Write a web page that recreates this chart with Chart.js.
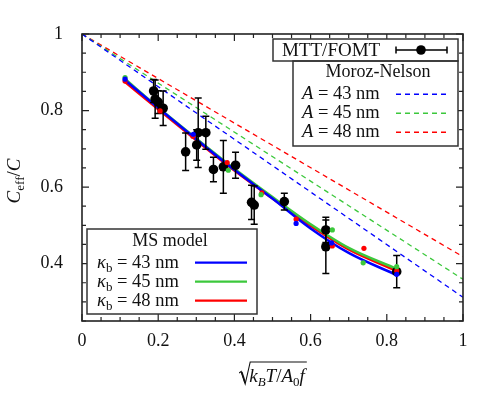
<!DOCTYPE html>
<html><head><meta charset="utf-8">
<script src="https://cdn.jsdelivr.net/npm/chart.js@4"></script>
<style>html,body{margin:0;padding:0;background:#fff}</style>
</head><body>
<canvas id="c" width="498" height="399"></canvas>
<script>
// ---- axes ----
const xTicks = [0, 0.2, 0.4, 0.6, 0.8, 1];
const xTickLabels = ['0', '0.2', '0.4', '0.6', '0.8', '1'];
const yTicks = [0.4, 0.6, 0.8, 1];
const yTickLabels = ['0.4', '0.6', '0.8', '1'];

// ---- Moroz-Nelson (dashed) ----
const mnX = [0, 1];
const mn43 = [1, 0.312];
const mn45 = [1, 0.359];
const mn48 = [1, 0.418];

// ---- MS model curves ----
const msX = [0.11, 0.2, 0.3, 0.4, 0.5, 0.6, 0.7, 0.826];
const ms43 = [0.882, 0.807, 0.725, 0.645, 0.570, 0.492, 0.428, 0.370];
const ms45 = [0.885, 0.808, 0.727, 0.648, 0.574, 0.503, 0.441, 0.386];
const ms48 = [0.877, 0.803, 0.722, 0.643, 0.570, 0.499, 0.437, 0.381];

// ---- MS model points ----
const dot43X = [0.113, 0.292, 0.562, 0.655, 0.826];
const dot43Y = [0.882, 0.738, 0.505, 0.454, 0.372];
const dot45X = [0.113, 0.384, 0.470, 0.657, 0.738, 0.826];
const dot45Y = [0.886, 0.644, 0.580, 0.488, 0.402, 0.392];
const dot48X = [0.113, 0.205, 0.291, 0.381, 0.472, 0.562, 0.657, 0.740, 0.826];
const dot48Y = [0.877, 0.799, 0.733, 0.664, 0.585, 0.516, 0.446, 0.440, 0.381];

// ---- MTT/FOMT measurements ----
const mttX = [0.188, 0.192, 0.200, 0.213, 0.272, 0.301, 0.305, 0.325, 0.345, 0.371, 0.403, 0.445, 0.452, 0.531, 0.640, 0.640, 0.826];
const mttY = [0.851, 0.830, 0.822, 0.806, 0.692, 0.710, 0.742, 0.742, 0.646, 0.653, 0.657, 0.560, 0.553, 0.562, 0.488, 0.444, 0.379];
const mttErr = [0.03, 0.05, 0.03, 0.045, 0.049, 0.04, 0.091, 0.043, 0.032, 0.069, 0.034, 0.045, 0.05, 0.022, 0.033, 0.07, 0.042];

const BLUE = '#0000ff', GREEN = '#3cc83c', RED = '#ff0000';
const FONT = "'Liberation Serif', 'DejaVu Serif', serif";

const pts = (xs, ys) => xs.map((x, i) => ({x: x, y: ys[i]}));

function rich(ctx, x, y, segs, align) {
  let w = 0;
  segs.forEach(s => { ctx.font = (s.it ? 'italic ' : '') + s.size + 'px ' + FONT; s.w = ctx.measureText(s.t).width; w += s.w; });
  let cx = align === 'center' ? x - w / 2 : x;
  ctx.textAlign = 'left'; ctx.textBaseline = 'alphabetic';
  segs.forEach(s => { ctx.font = (s.it ? 'italic ' : '') + s.size + 'px ' + FONT; ctx.fillText(s.t, cx, y + (s.dy || 0)); cx += s.w; });
  return w;
}

const MTT_INDEX = 6;
const deco = {
  id: 'deco',
  beforeDatasetDraw(chart, args) {
    if (args.index !== MTT_INDEX) return;
    const ctx = chart.ctx, xs = chart.scales.x, ys = chart.scales.y;
    ctx.save(); ctx.strokeStyle = '#000'; ctx.lineWidth = 1.5;
    mttX.forEach((x, i) => {
      const px = xs.getPixelForValue(x);
      const t = ys.getPixelForValue(mttY[i] + mttErr[i]);
      const b = ys.getPixelForValue(mttY[i] - mttErr[i]);
      ctx.beginPath();
      ctx.moveTo(px, t); ctx.lineTo(px, b);
      ctx.moveTo(px - 3.5, t); ctx.lineTo(px + 3.5, t);
      ctx.moveTo(px - 3.5, b); ctx.lineTo(px + 3.5, b);
      ctx.stroke();
    });
    ctx.restore();
  },
  afterDraw(chart) {
    const ctx = chart.ctx, a = chart.chartArea, xs = chart.scales.x, ys = chart.scales.y;
    ctx.save();
    // ticks inside (all four sides)
    ctx.strokeStyle = '#222'; ctx.lineWidth = 1.2;
    ctx.beginPath();
    for (let k = 0; k <= 20; k++) {
      const v = k * 0.05, px = xs.getPixelForValue(v), L = (k % 4 === 0) ? 7 : 4;
      ctx.moveTo(px, a.bottom); ctx.lineTo(px, a.bottom - L);
      ctx.moveTo(px, a.top); ctx.lineTo(px, a.top + L);
    }
    for (let k = 5; k <= 20; k++) {
      const v = k * 0.05, py = ys.getPixelForValue(v), L = (k % 4 === 0) ? 7 : 4;
      ctx.moveTo(a.left, py); ctx.lineTo(a.left + L, py);
      ctx.moveTo(a.right, py); ctx.lineTo(a.right - L, py);
    }
    ctx.stroke();
    ctx.lineWidth = 1.6; ctx.strokeStyle = '#222';
    ctx.strokeRect(a.left, a.top, a.right - a.left, a.bottom - a.top);

    // legend boxes
    ctx.fillStyle = '#fff';
    ctx.fillRect(273, 39, 185, 22); ctx.fillRect(293, 61, 165, 85); ctx.fillRect(87, 229, 170, 85);
    ctx.lineWidth = 1.5; ctx.strokeStyle = '#333';
    ctx.strokeRect(273, 39, 185, 22); ctx.strokeRect(293, 61, 165, 85); ctx.strokeRect(87, 229, 170, 85);
    ctx.fillStyle = '#111';
    rich(ctx, 282, 55.5, [{t: 'MTT/FOMT', size: 19}], 'left');
    // errorbar sample
    ctx.strokeStyle = '#000'; ctx.lineWidth = 1.5;
    ctx.beginPath(); ctx.moveTo(396, 50); ctx.lineTo(447, 50);
    ctx.moveTo(396, 46.5); ctx.lineTo(396, 53.5); ctx.moveTo(447, 46.5); ctx.lineTo(447, 53.5); ctx.stroke();
    ctx.fillStyle = '#000'; ctx.beginPath(); ctx.arc(421, 50, 4.8, 0, Math.PI * 2); ctx.fill();
    ctx.fillStyle = '#111';
    rich(ctx, 378, 77, [{t: 'Moroz-Nelson', size: 18}], 'center');
    const mn = [['43', BLUE, 99, 94.3], ['45', GREEN, 118.3, 113.3], ['48', RED, 137.3, 132.3]];
    mn.forEach(m => {
      ctx.fillStyle = '#111';
      rich(ctx, 302, m[2], [{t: 'A', it: true, size: 18.5}, {t: ' = ' + m[0] + ' nm', size: 18.5}], 'left');
      ctx.strokeStyle = m[1]; ctx.lineWidth = 1.4; ctx.setLineDash([5, 4]);
      ctx.beginPath(); ctx.moveTo(396, m[3]); ctx.lineTo(447, m[3]); ctx.stroke(); ctx.setLineDash([]);
    });
    ctx.fillStyle = '#111';
    rich(ctx, 170, 245.7, [{t: 'MS model', size: 18}], 'center');
    const ms = [['43', BLUE, 267.7, 262.7], ['45', GREEN, 286.7, 281.7], ['48', RED, 305.7, 300.7]];
    ms.forEach(m => {
      ctx.fillStyle = '#111';
      rich(ctx, 97, m[2], [{t: 'κ', it: true, size: 18.5}, {t: 'b', size: 13, dy: 4}, {t: ' = ' + m[0] + ' nm', size: 18.5}], 'left');
      ctx.strokeStyle = m[1]; ctx.lineWidth = 2.2;
      ctx.beginPath(); ctx.moveTo(195, m[3]); ctx.lineTo(247, m[3]); ctx.stroke();
    });

    // axis titles
    ctx.fillStyle = '#111';
    ctx.save(); ctx.translate(20, 181); ctx.rotate(-Math.PI / 2);
    rich(ctx, 0, 0, [{t: 'C', it: true, size: 19}, {t: 'eff', size: 13, dy: 4}, {t: '/', size: 19}, {t: 'C', it: true, size: 19}], 'center');
    ctx.restore();
    const w = rich(ctx, 277, 382, [{t: 'k', it: true, size: 19}, {t: 'B', it: true, size: 13, dy: 4}, {t: 'T', it: true, size: 19}, {t: '/', size: 19}, {t: 'A', it: true, size: 19}, {t: '0', size: 13, dy: 4}, {t: 'f', it: true, size: 19}], 'center');
    const x0 = 277 - w / 2;
    ctx.strokeStyle = '#111'; ctx.lineWidth = 1.1;
    ctx.beginPath();
    ctx.moveTo(x0 - 10, 373); ctx.lineTo(x0 - 8, 371.5); ctx.lineTo(x0 - 4, 384); ctx.lineTo(x0 + 1, 362); ctx.lineTo(x0 + w + 2, 362);
    ctx.stroke();
    ctx.lineWidth = 1.8; ctx.beginPath(); ctx.moveTo(x0 - 7.5, 372); ctx.lineTo(x0 - 4, 383); ctx.stroke();
    ctx.restore();
  }
};

new Chart(document.getElementById('c'), {
  type: 'scatter',
  data: {
    datasets: [
      {data: pts(mnX, mn43), showLine: true, borderColor: BLUE, borderWidth: 1.3, borderDash: [5, 4], pointRadius: 0, order: 3},
      {data: pts(mnX, mn45), showLine: true, borderColor: GREEN, borderWidth: 1.3, borderDash: [5, 4], pointRadius: 0, order: 3},
      {data: pts(mnX, mn48), showLine: true, borderColor: RED, borderWidth: 1.3, borderDash: [5, 4], pointRadius: 0, order: 3},
      {data: pts(msX, ms43), showLine: true, borderColor: BLUE, borderWidth: 2.5, pointRadius: 0, cubicInterpolationMode: 'monotone', order: 2},
      {data: pts(msX, ms45), showLine: true, borderColor: GREEN, borderWidth: 2.5, pointRadius: 0, cubicInterpolationMode: 'monotone', order: 2},
      {data: pts(msX, ms48), showLine: true, borderColor: RED, borderWidth: 2.5, pointRadius: 0, cubicInterpolationMode: 'monotone', order: 2},
      {data: pts(mttX, mttY), backgroundColor: '#000', borderColor: '#000', pointRadius: 4.8, borderWidth: 0, order: 1},
      {data: pts(dot43X, dot43Y), backgroundColor: BLUE, borderWidth: 0, pointRadius: 2.6, order: 0},
      {data: pts(dot45X, dot45Y), backgroundColor: GREEN, borderWidth: 0, pointRadius: 2.6, order: 0},
      {data: pts(dot48X, dot48Y), backgroundColor: RED, borderWidth: 0, pointRadius: 2.6, order: 0}
    ]
  },
  options: {
    responsive: false, animation: false, devicePixelRatio: 1,
    layout: {padding: {left: 0, top: 34, right: 35, bottom: 0}},
    plugins: {legend: {display: false}, tooltip: {enabled: false}},
    scales: {
      x: {
        type: 'linear', min: 0, max: 1,
        grid: {display: false}, border: {display: false},
        afterBuildTicks: s => { s.ticks = xTicks.map(v => ({value: v})); },
        afterFit: s => { s.height = 78; },
        ticks: {padding: 1, color: '#111', font: {family: FONT, size: 18}, maxRotation: 0,
          callback: (v) => { const i = xTicks.findIndex(t => Math.abs(t - v) < 1e-9); return i >= 0 ? xTickLabels[i] : ''; }}
      },
      y: {
        type: 'linear', min: 0.25, max: 1,
        grid: {display: false}, border: {display: false},
        afterBuildTicks: s => { s.ticks = yTicks.map(v => ({value: v})); },
        afterFit: s => { s.width = 82; },
        ticks: {padding: 11, color: '#111', font: {family: FONT, size: 18},
          callback: (v) => { const i = yTicks.findIndex(t => Math.abs(t - v) < 1e-9); return i >= 0 ? yTickLabels[i] : ''; }}
      }
    }
  },
  plugins: [deco]
});
</script>
</body></html>
